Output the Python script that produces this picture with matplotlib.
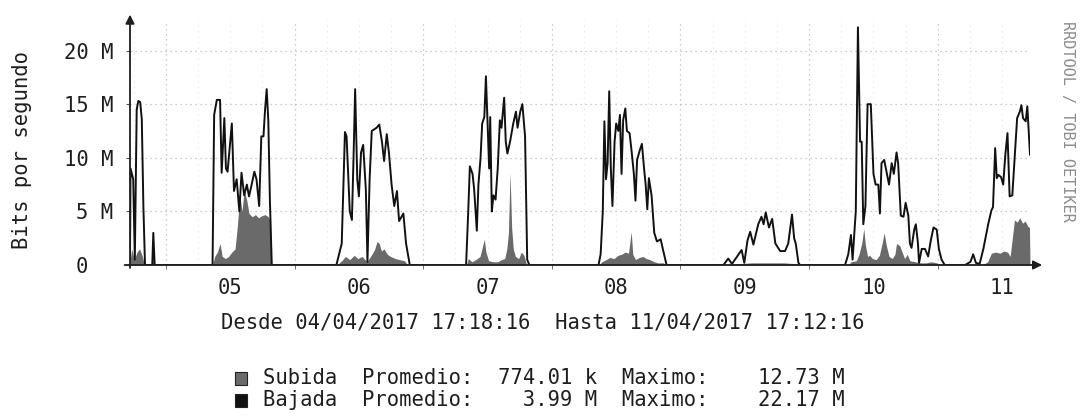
import numpy as np
import pandas as pd
import matplotlib
matplotlib.use('Agg')
import matplotlib.pyplot as plt
import matplotlib.dates as mdates
from matplotlib.patches import Rectangle

plt.rcParams['font.family'] = 'DejaVu Sans Mono'

# Graph window
start = pd.Timestamp('2017-04-04 17:18:16')
end = pd.Timestamp('2017-04-11 17:12:16')

# Bajada (download) rate: (hours since start, Mbit/s)
bajada = [
    (0.0, 0.5), (0.1, 9.0), (0.6, 8.0), (0.9, 0.5), (1.25, 14.5), (1.55, 15.3), (1.9, 15.2),
    (2.2, 13.6), (2.5, 5.4), (2.8, 0.0), (4.15, 0.0), (4.35, 3.0), (4.6, 0.0),
    (15.4, 0.0), (15.7, 14.0), (16.2, 15.4), (16.8, 15.4), (17.1, 8.6), (17.6, 13.7), (17.9, 9.0),
    (18.2, 8.7), (18.7, 11.5), (19.0, 13.2), (19.4, 6.9), (19.9, 8.0), (20.4, 5.0), (20.8, 8.6),
    (21.3, 6.5), (21.8, 7.5), (22.2, 6.4), (22.7, 7.5), (23.2, 8.7), (23.6, 8.0), (24.1, 5.5),
    (24.5, 12.0), (24.9, 12.0), (25.2, 14.5), (25.5, 16.4), (25.8, 13.5), (26.1, 6.0), (26.45, 0.0),
    (38.5, 0.0), (39.5, 2.0), (40.1, 12.4), (40.4, 12.0), (41.0, 5.0), (41.4, 4.2), (41.7, 10.0),
    (42.0, 16.4), (42.4, 8.0), (42.7, 6.4), (43.1, 10.5), (43.5, 11.2), (44.0, 7.0), (44.3, 0.3),
    (44.7, 8.0), (45.1, 12.5), (46.0, 12.8), (46.5, 13.1), (47.0, 11.5), (47.4, 9.7), (47.9, 12.2),
    (48.3, 10.5), (48.8, 7.5), (49.3, 5.5), (49.8, 6.9), (50.2, 4.1), (51.0, 4.8), (51.5, 2.0),
    (52.2, 0.0),
    (62.7, 0.0), (63.1, 5.0), (63.4, 9.2), (63.9, 8.5), (64.2, 7.1), (64.7, 3.2), (65.0, 7.5),
    (65.4, 10.0), (65.7, 13.2), (66.1, 13.8), (66.4, 17.6), (66.7, 13.2), (67.0, 9.0), (67.2, 13.8),
    (67.5, 5.0), (67.8, 6.5), (68.2, 6.1), (68.6, 9.0), (69.0, 13.5), (69.3, 12.8), (69.8, 15.6),
    (70.1, 11.5), (70.4, 10.4), (70.9, 11.5), (71.5, 13.2), (72.0, 14.3), (72.3, 12.8), (72.8, 14.3),
    (73.2, 15.0), (73.7, 12.0), (74.1, 0.5), (74.5, 0.0),
    (87.4, 0.0), (87.8, 1.0), (88.2, 5.0), (88.5, 13.4), (88.8, 8.0), (89.1, 9.5), (89.4, 16.2),
    (89.7, 9.0), (90.0, 5.5), (90.4, 11.5), (90.7, 13.2), (91.1, 12.5), (91.4, 14.0), (91.7, 8.5),
    (92.0, 13.5), (92.4, 14.6), (92.7, 12.5), (93.2, 12.3), (93.6, 10.5), (94.0, 8.5), (94.3, 6.0),
    (94.6, 9.8), (95.1, 10.7), (95.5, 11.3), (95.9, 9.0), (96.2, 7.5), (96.5, 5.2), (96.8, 8.1),
    (97.3, 6.5), (97.8, 3.0), (98.3, 2.2), (99.0, 2.4), (99.4, 1.5), (100.1, 0.0),
    (110.7, 0.0), (111.6, 0.6), (112.3, 0.1), (114.1, 1.4), (114.6, 0.2), (115.2, 2.3), (115.7, 3.1),
    (116.3, 1.9), (117.2, 3.8), (117.8, 4.5), (118.2, 3.8), (118.6, 4.9), (119.2, 3.5), (119.8, 4.3),
    (120.4, 2.0), (121.3, 1.3), (122.2, 1.3), (122.8, 2.0), (123.5, 4.7), (123.9, 2.5), (124.2, 2.0),
    (124.7, 0.2), (125.0, 0.0),
    (133.4, 0.0), (134.0, 1.0), (134.5, 2.8), (134.8, 0.5), (135.4, 5.0), (135.8, 22.17),
    (136.2, 11.5), (136.5, 11.5), (136.8, 3.8), (137.2, 5.5), (137.6, 15.0), (138.2, 15.0),
    (138.7, 8.5), (139.1, 7.5), (139.6, 7.5), (139.9, 4.8), (140.2, 9.5), (140.7, 9.8), (141.2, 8.5),
    (141.6, 7.5), (142.1, 9.5), (142.5, 8.5), (143.0, 10.5), (143.3, 9.5), (143.8, 4.6), (144.3, 4.5),
    (144.7, 5.8), (145.2, 4.6), (145.5, 2.0), (145.8, 1.6), (146.3, 3.3), (146.6, 3.8), (147.0, 2.0),
    (147.2, 0.2), (147.7, 1.5), (148.3, 1.5), (148.9, 0.8), (149.4, 2.3), (149.9, 3.5), (150.5, 3.3),
    (150.9, 1.5), (151.4, 0.5), (152.0, 0.0),
    (155.8, 0.0), (156.8, 0.3), (157.3, 1.0), (157.8, 0.2), (158.5, 0.1), (159.2, 1.5), (160.1, 3.8),
    (160.7, 5.1), (161.0, 5.4), (161.4, 10.9), (161.7, 8.1), (162.0, 8.4), (162.5, 8.2), (162.9, 7.5),
    (163.3, 10.3), (163.7, 12.3), (164.1, 6.4), (164.6, 6.5), (165.1, 10.5), (165.5, 13.7),
    (166.0, 14.3), (166.3, 14.9), (166.6, 13.7), (167.1, 13.4), (167.4, 14.8), (167.9, 10.3),
]

# Subida (upload) rate: (hours since start, Mbit/s)
subida = [
    (0.0, 0.3), (0.3, 1.5), (0.8, 0.5), (1.3, 1.2), (1.8, 1.5), (2.3, 0.8), (2.7, 0.0),
    (4.2, 0.0), (4.35, 0.6), (4.6, 0.0),
    (15.4, 0.0), (15.8, 0.8), (16.3, 1.2), (16.8, 2.0), (17.2, 0.8), (17.8, 0.6), (18.4, 0.8),
    (19.0, 1.2), (19.6, 1.5), (20.0, 3.5), (20.5, 6.5), (20.9, 5.0), (21.3, 7.0), (21.8, 6.0),
    (22.2, 4.8), (22.8, 4.5), (23.4, 4.7), (24.0, 4.4), (24.6, 4.6), (25.2, 4.7), (25.8, 4.5),
    (26.2, 4.0), (26.4, 0.0),
    (38.6, 0.0), (39.5, 0.4), (40.2, 0.8), (41.0, 0.5), (41.8, 0.9), (42.5, 0.6), (43.3, 0.8),
    (44.2, 0.3), (45.0, 0.9), (45.6, 1.4), (46.1, 2.2), (46.5, 2.0), (46.9, 1.3), (47.4, 1.5),
    (48.0, 1.0), (48.6, 0.8), (49.5, 0.6), (50.3, 0.5), (51.2, 0.4), (51.8, 0.0),
    (62.8, 0.0), (63.1, 0.6), (63.8, 0.3), (64.5, 0.5), (65.3, 0.8), (65.8, 1.8), (66.1, 2.4),
    (66.4, 1.2), (66.9, 0.4), (67.8, 0.3), (68.6, 0.3), (69.3, 0.5), (69.9, 0.6), (70.3, 1.5),
    (70.6, 3.0), (70.9, 8.6), (71.2, 3.5), (71.5, 1.5), (71.9, 0.8), (72.5, 0.6), (73.0, 1.2),
    (73.5, 0.9), (74.0, 0.0),
    (87.5, 0.0), (88.0, 0.3), (88.8, 0.5), (89.5, 0.7), (90.3, 0.6), (91.0, 0.9), (91.7, 1.0),
    (92.4, 1.2), (93.0, 1.1), (93.5, 3.1), (93.8, 1.0), (94.3, 0.5), (95.0, 0.7), (95.7, 0.8),
    (96.3, 0.6), (97.0, 0.5), (97.8, 0.3), (98.5, 0.2), (99.5, 0.2), (100.0, 0.0),
    (111.0, 0.0), (113.0, 0.1), (116.0, 0.2), (119.0, 0.2), (122.0, 0.2), (124.7, 0.1), (125.0, 0.0),
    (134.0, 0.0), (134.5, 0.3), (135.5, 0.4), (136.0, 1.0), (136.5, 2.0), (136.9, 3.4), (137.2, 1.8),
    (137.6, 0.8), (138.0, 0.9), (138.5, 0.6), (139.2, 0.5), (139.8, 0.9), (140.3, 2.0), (140.7, 3.0),
    (141.1, 1.8), (141.6, 0.8), (142.2, 0.6), (142.7, 1.0), (143.0, 2.0), (143.6, 1.8), (144.2, 1.0),
    (144.5, 0.6), (145.0, 1.0), (145.5, 0.4), (146.5, 0.3), (147.5, 0.2), (148.5, 0.2), (149.5, 0.3),
    (150.5, 0.2), (151.5, 0.0),
    (159.0, 0.0), (160.0, 0.3), (160.7, 1.1), (161.5, 1.2), (162.3, 1.1), (163.0, 1.3), (163.7, 1.2),
    (164.2, 0.8), (164.6, 2.5), (165.0, 4.2), (165.5, 4.0), (166.0, 4.4), (166.5, 3.9), (167.0, 4.1),
    (167.5, 3.6), (167.8, 3.5), (167.9, 0.0),
]

y_ticks = [0, 5, 10, 15, 20]
y_labels = ['0  ', '5 M', '10 M', '15 M', '20 M']

legend_names = ['Subida', 'Bajada']
legend_avg = ['774.01 k', '3.99 M']
legend_max = ['12.73 M', '22.17 M']
legend_colors = ['#6a6a6a', '#111111']

INK = '#1e1e1e'
FS = 14.8
W, H = 1088, 420


def to_time(pairs):
    arr = np.array(pairs)
    return start + pd.to_timedelta(arr[:, 0], unit='h'), arr[:, 1]


fig = plt.figure(figsize=(W / 100, H / 100), dpi=100)
fig.patch.set_facecolor('white')
ax = fig.add_axes([130 / W, 155 / H, 900 / W, 245 / H])
ax.set_xlim(start, end)
ax.set_ylim(0, 22.85)
for s in ax.spines.values():
    s.set_visible(False)

# grid: very faint 6-hour lines, dotted day and 5 M lines
for t in pd.date_range('2017-04-04 18:00', end, freq='6h'):
    if t.hour != 0:
        ax.axvline(t, color='#e6e6e6', ls=(0, (1, 4)), lw=0.8, zorder=0)
for d in pd.date_range('2017-04-05', '2017-04-11', freq='D'):
    ax.axvline(d, color='#bcbcbc', ls=(0, (1, 3)), lw=0.9, zorder=0)
for y in y_ticks[1:]:
    ax.axhline(y, color='#bcbcbc', ls=(0, (1, 3)), lw=0.9, zorder=0)

ts, vs = to_time(subida)
tb, vb = to_time(bajada)
ax.fill_between(ts, vs, 0, color=legend_colors[0], lw=0, zorder=2)
ax.plot(tb, vb, color=legend_colors[1], lw=1.4, zorder=3)

# axis lines with arrow heads
arrow = dict(arrowstyle='-|>', color=INK, lw=1.3, mutation_scale=13, shrinkA=0, shrinkB=0)
ax.annotate('', xy=(1.0135, 0), xytext=(-0.006, 0), xycoords='axes fraction',
            arrowprops=arrow, annotation_clip=False, zorder=5)
ax.annotate('', xy=(0, 1.022), xytext=(0, -0.012), xycoords='axes fraction',
            arrowprops=arrow, annotation_clip=False, zorder=5)

# day labels centred at noon, small marks at midnight
ax.xaxis.set_major_locator(mdates.HourLocator(byhour=12))
ax.xaxis.set_major_formatter(mdates.DateFormatter('%d'))
ax.xaxis.set_minor_locator(mdates.DayLocator())
ax.tick_params(axis='x', which='major', length=0, pad=9, labelsize=FS, labelcolor=INK)
ax.tick_params(axis='x', which='minor', length=3, color='#555555')

ax.set_yticks(y_ticks)
ax.set_yticklabels(y_labels)
ax.tick_params(axis='y', length=3, color='#555555', pad=9, labelsize=FS, labelcolor=INK)

fig.text(22 / W, 1 - 150 / H, 'Bits por segundo', rotation=90, ha='center', va='center',
         fontsize=FS, color=INK)
fig.text(1068 / W, 1 - 21 / H, 'RRDTOOL / TOBI OETIKER', rotation=270, ha='center', va='top',
         fontsize=11, color='#8c8c8c')
fig.text(543 / W, 1 - 323 / H, 'Desde 04/04/2017 17:18:16  Hasta 11/04/2017 17:12:16',
         ha='center', va='center', fontsize=FS, color=INK)

for i, name in enumerate(legend_names):
    yc = 378 + 22 * i
    fig.patches.append(Rectangle((235 / W, 1 - (yc + 6.5) / H), 12 / W, 13 / H,
                                 transform=fig.transFigure, facecolor=legend_colors[i],
                                 edgecolor='#222222', lw=0.8))
    row = f'{name}  Promedio:{legend_avg[i]:>10}  Maximo:{legend_max[i]:>11}'
    fig.text(263 / W, 1 - yc / H, row, ha='left', va='center', fontsize=FS, color=INK)

fig.savefig('out.png', dpi=100)
